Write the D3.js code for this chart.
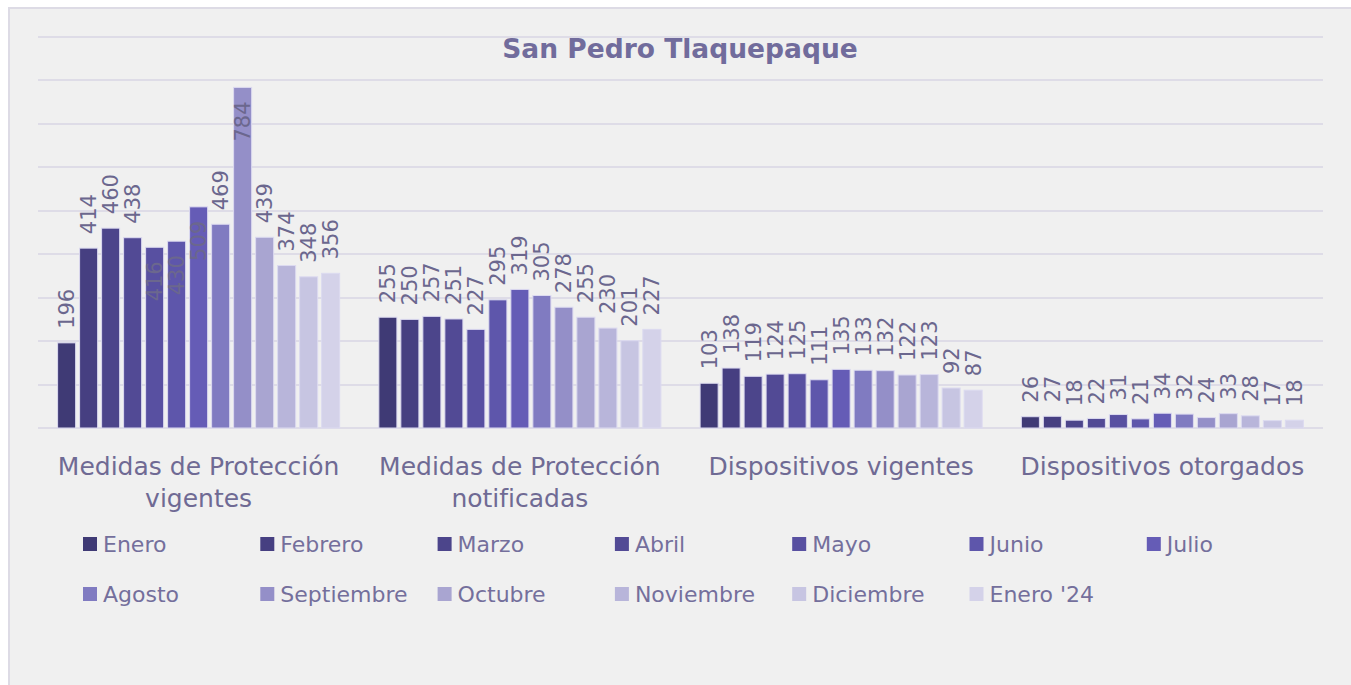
<!DOCTYPE html>
<html lang="es">
<head>
<meta charset="utf-8">
<script src="https://d3js.org/d3.v7.min.js"></script>
<style>
	body { margin: 0; background: #fff; }
	svg text { font-family: "DejaVu Sans", sans-serif; }
	.grid line { stroke: #dedce7; stroke-width: 2px; }
	.cat-label { font-size: 25px; fill: #6f6a94; text-anchor: middle; }
	.val-label { font-size: 21px; fill: #6b678e; }
	.legend text { font-size: 22px; fill: #746f9c; }
	.title { font-size: 26.5px; font-weight: 700; fill: #716c9c; text-anchor: middle; }
</style>
<title>San Pedro Tlaquepaque</title>
</head>
<body>
<svg id="chart" width="1351" height="685"></svg>
<script>
// categories (two lines each)
var categories = [
	["Medidas de Protección", "vigentes"],
	["Medidas de Protección", "notificadas"],
	["Dispositivos vigentes"],
	["Dispositivos otorgados"]
];
var months = ["Enero", "Febrero", "Marzo", "Abril", "Mayo", "Junio", "Julio",
	"Agosto", "Septiembre", "Octubre", "Noviembre", "Diciembre", "Enero '24"];

// values per category, one per month
var medidasVigentes    = [196, 414, 460, 438, 416, 430, 509, 469, 784, 439, 374, 348, 356];
var medidasNotificadas = [255, 250, 257, 251, 227, 295, 319, 305, 278, 255, 230, 201, 227];
var dispVigentes       = [103, 138, 119, 124, 125, 111, 135, 133, 132, 122, 123, 92, 87];
var dispOtorgados      = [26, 27, 18, 22, 31, 21, 34, 32, 24, 33, 28, 17, 18];
var series = [medidasVigentes, medidasNotificadas, dispVigentes, dispOtorgados];

// labels that the original drew inside the bar end
var insideLabels = ["0-4", "0-5", "0-6", "0-8"];

var yTicks = d3.range(0, 1000, 100);

var colors = ["#3f3a75", "#463f81", "#4c458b", "#524a95", "#5850a1", "#5e56ab", "#655cb6",
	"#807bc1", "#948fc8", "#a9a5d1", "#b8b5da", "#c7c5e2", "#d4d2e9"];

var svg = d3.select("#chart");

// background frame
svg.append("rect")
	.attr("x", 9).attr("y", 8)
	.attr("width", 1351).attr("height", 700)
	.attr("fill", "#f0f0f0")
	.attr("stroke", "#dddbe5")
	.attr("stroke-width", 2);

var plotLeft = 38, plotRight = 1323, plotTop = 37, plotBottom = 428;

var y = d3.scaleLinear().domain([0, 900]).range([plotBottom, plotTop]);
var x0 = d3.scaleBand().domain(d3.range(categories.length)).range([plotLeft, plotRight])
	.paddingInner(0.122).paddingOuter(0.061);
var x1 = d3.scaleBand().domain(d3.range(months.length)).range([0, x0.bandwidth()])
	.paddingInner(0.18).paddingOuter(0);
var color = d3.scaleOrdinal().domain(months).range(colors);

// gridlines
svg.append("g").attr("class", "grid")
	.selectAll("line").data(yTicks).enter().append("line")
	.attr("x1", plotLeft).attr("x2", plotRight)
	.attr("y1", function(d) { return Math.round(y(d)); })
	.attr("y2", function(d) { return Math.round(y(d)); });

// title
svg.append("text").attr("class", "title")
	.attr("x", 680).attr("y", 58)
	.text("San Pedro Tlaquepaque");

// bars
var group = svg.selectAll("g.cat")
	.data(series).enter().append("g")
	.attr("class", "cat")
	.attr("transform", function(d, i) { return "translate(" + x0(i) + ",0)"; });

group.selectAll("rect")
	.data(function(d) { return d; })
	.enter().append("rect")
	.attr("x", function(d, i) { return x1(i); })
	.attr("y", function(d) { return y(d); })
	.attr("width", x1.bandwidth())
	.attr("height", function(d) { return y(0) - y(d); })
	.attr("fill", function(d, i) { return colors[i]; })
	.attr("stroke", "#dcdaf0")
	.attr("stroke-width", 1);

// value labels
group.each(function(vals, gi) {
	d3.select(this).selectAll("text.val-label")
		.data(vals).enter().append("text")
		.attr("class", "val-label")
		.attr("transform", function(d, i) {
			var cx = x1(i) + x1.bandwidth() / 2 + 7.5;
			var inside = insideLabels.indexOf(gi + "-" + i) >= 0;
			var ty = inside ? y(d) + 14 : y(d) - 14;
			return "translate(" + cx + "," + ty + ") rotate(-90)";
		})
		.attr("text-anchor", function(d, i) {
			return insideLabels.indexOf(gi + "-" + i) >= 0 ? "end" : "start";
		})
		.text(function(d) { return d; });
});

// category labels
categories.forEach(function(lines, i) {
	var t = svg.append("text").attr("class", "cat-label")
		.attr("x", x0(i) + x0.bandwidth() / 2)
		.attr("y", 475);
	lines.forEach(function(l, k) {
		t.append("tspan")
			.attr("x", x0(i) + x0.bandwidth() / 2)
			.attr("dy", k === 0 ? 0 : 32)
			.text(l);
	});
});

// legend
var legend = svg.selectAll("g.legend")
	.data(months).enter().append("g")
	.attr("class", "legend")
	.attr("transform", function(d, i) {
		var col = i % 7, row = Math.floor(i / 7);
		return "translate(" + (83 + col * 177.3) + "," + (537 + row * 50) + ")";
	});

legend.append("rect")
	.attr("width", 14).attr("height", 14)
	.attr("fill", function(d) { return color(d); });

legend.append("text")
	.attr("x", 20).attr("y", 14.5)
	.text(function(d) { return d; });
</script>
</body>
</html>
